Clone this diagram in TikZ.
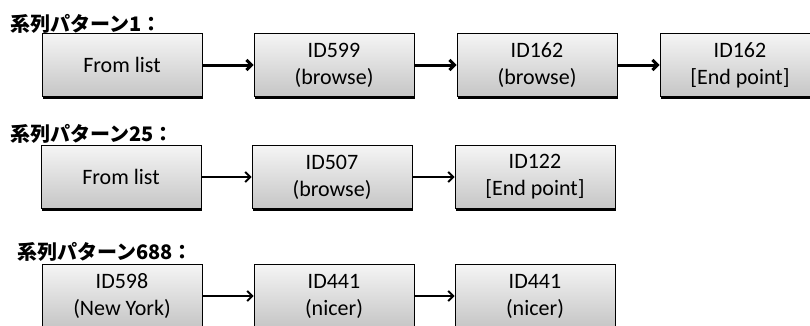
\documentclass[tikz,border=0pt]{standalone}
\usepackage{fontspec}
\setmainfont{Carlito}
\newfontfamily\cjk{Noto Sans CJK JP}
\usetikzlibrary{arrows.meta,shadows}
\tikzset{
 idbox/.style={draw=black,line width=0.8pt,top color=gray!8,bottom color=gray!45,
  minimum width=160pt,minimum height=63pt,align=center,inner sep=0pt,
  font=\fontsize{22}{27}\selectfont,
  drop shadow={shadow xshift=1.2pt,shadow yshift=-2pt,fill=black,opacity=1}},
 pattitle/.style={anchor=west,inner sep=0pt,font=\cjk\bfseries\fontsize{20}{22}\selectfont},
 flow/.style={draw=black,-{Straight Barb[length=5pt,width=10pt]}},
 thickflow/.style={flow,line width=3pt},
 thinflow/.style={flow,line width=2pt}
}
\begin{document}
\begin{tikzpicture}[x=1pt,y=-1pt]
 \useasboundingbox (0,0) rectangle (810,325);
 \clip (0,0) rectangle (810,325);
 % pattern 1
 \node[pattitle] (T1) at (10,24) {系列パターン1：};
 \node[idbox] (A1) at (122,65) {From list};
 \node[idbox] (A2) at (334,65) {ID599\\(browse)};
 \node[idbox] (A3) at (537,65) {ID162\\(browse)};
 \node[idbox] (A4) at (740,65) {ID162\\{[}End point{]}};
 \path (A1) edge [thickflow] (A2);
 \path (A2) edge [thickflow] (A3);
 \path (A3) edge [thickflow] (A4);
 % pattern 25
 \node[pattitle] (T2) at (10,134) {系列パターン25：};
 \node[idbox] (B1) at (121,177) {From list};
 \node[idbox] (B2) at (332,177) {ID507\\(browse)};
 \node[idbox] (B3) at (535,177) {ID122\\{[}End point{]}};
 \path (B1) edge [thinflow] (B2);
 \path (B2) edge [thinflow] (B3);
 % pattern 688
 \node[pattitle] (T3) at (17,252) {系列パターン688：};
 \node[idbox] (C1) at (122,296) {ID598\\(New York)};
 \node[idbox] (C2) at (334,296) {ID441\\(nicer)};
 \node[idbox] (C3) at (535,296) {ID441\\(nicer)};
 \path (C1) edge [thinflow] (C2);
 \path (C2) edge [thinflow] (C3);
\end{tikzpicture}
\end{document}
